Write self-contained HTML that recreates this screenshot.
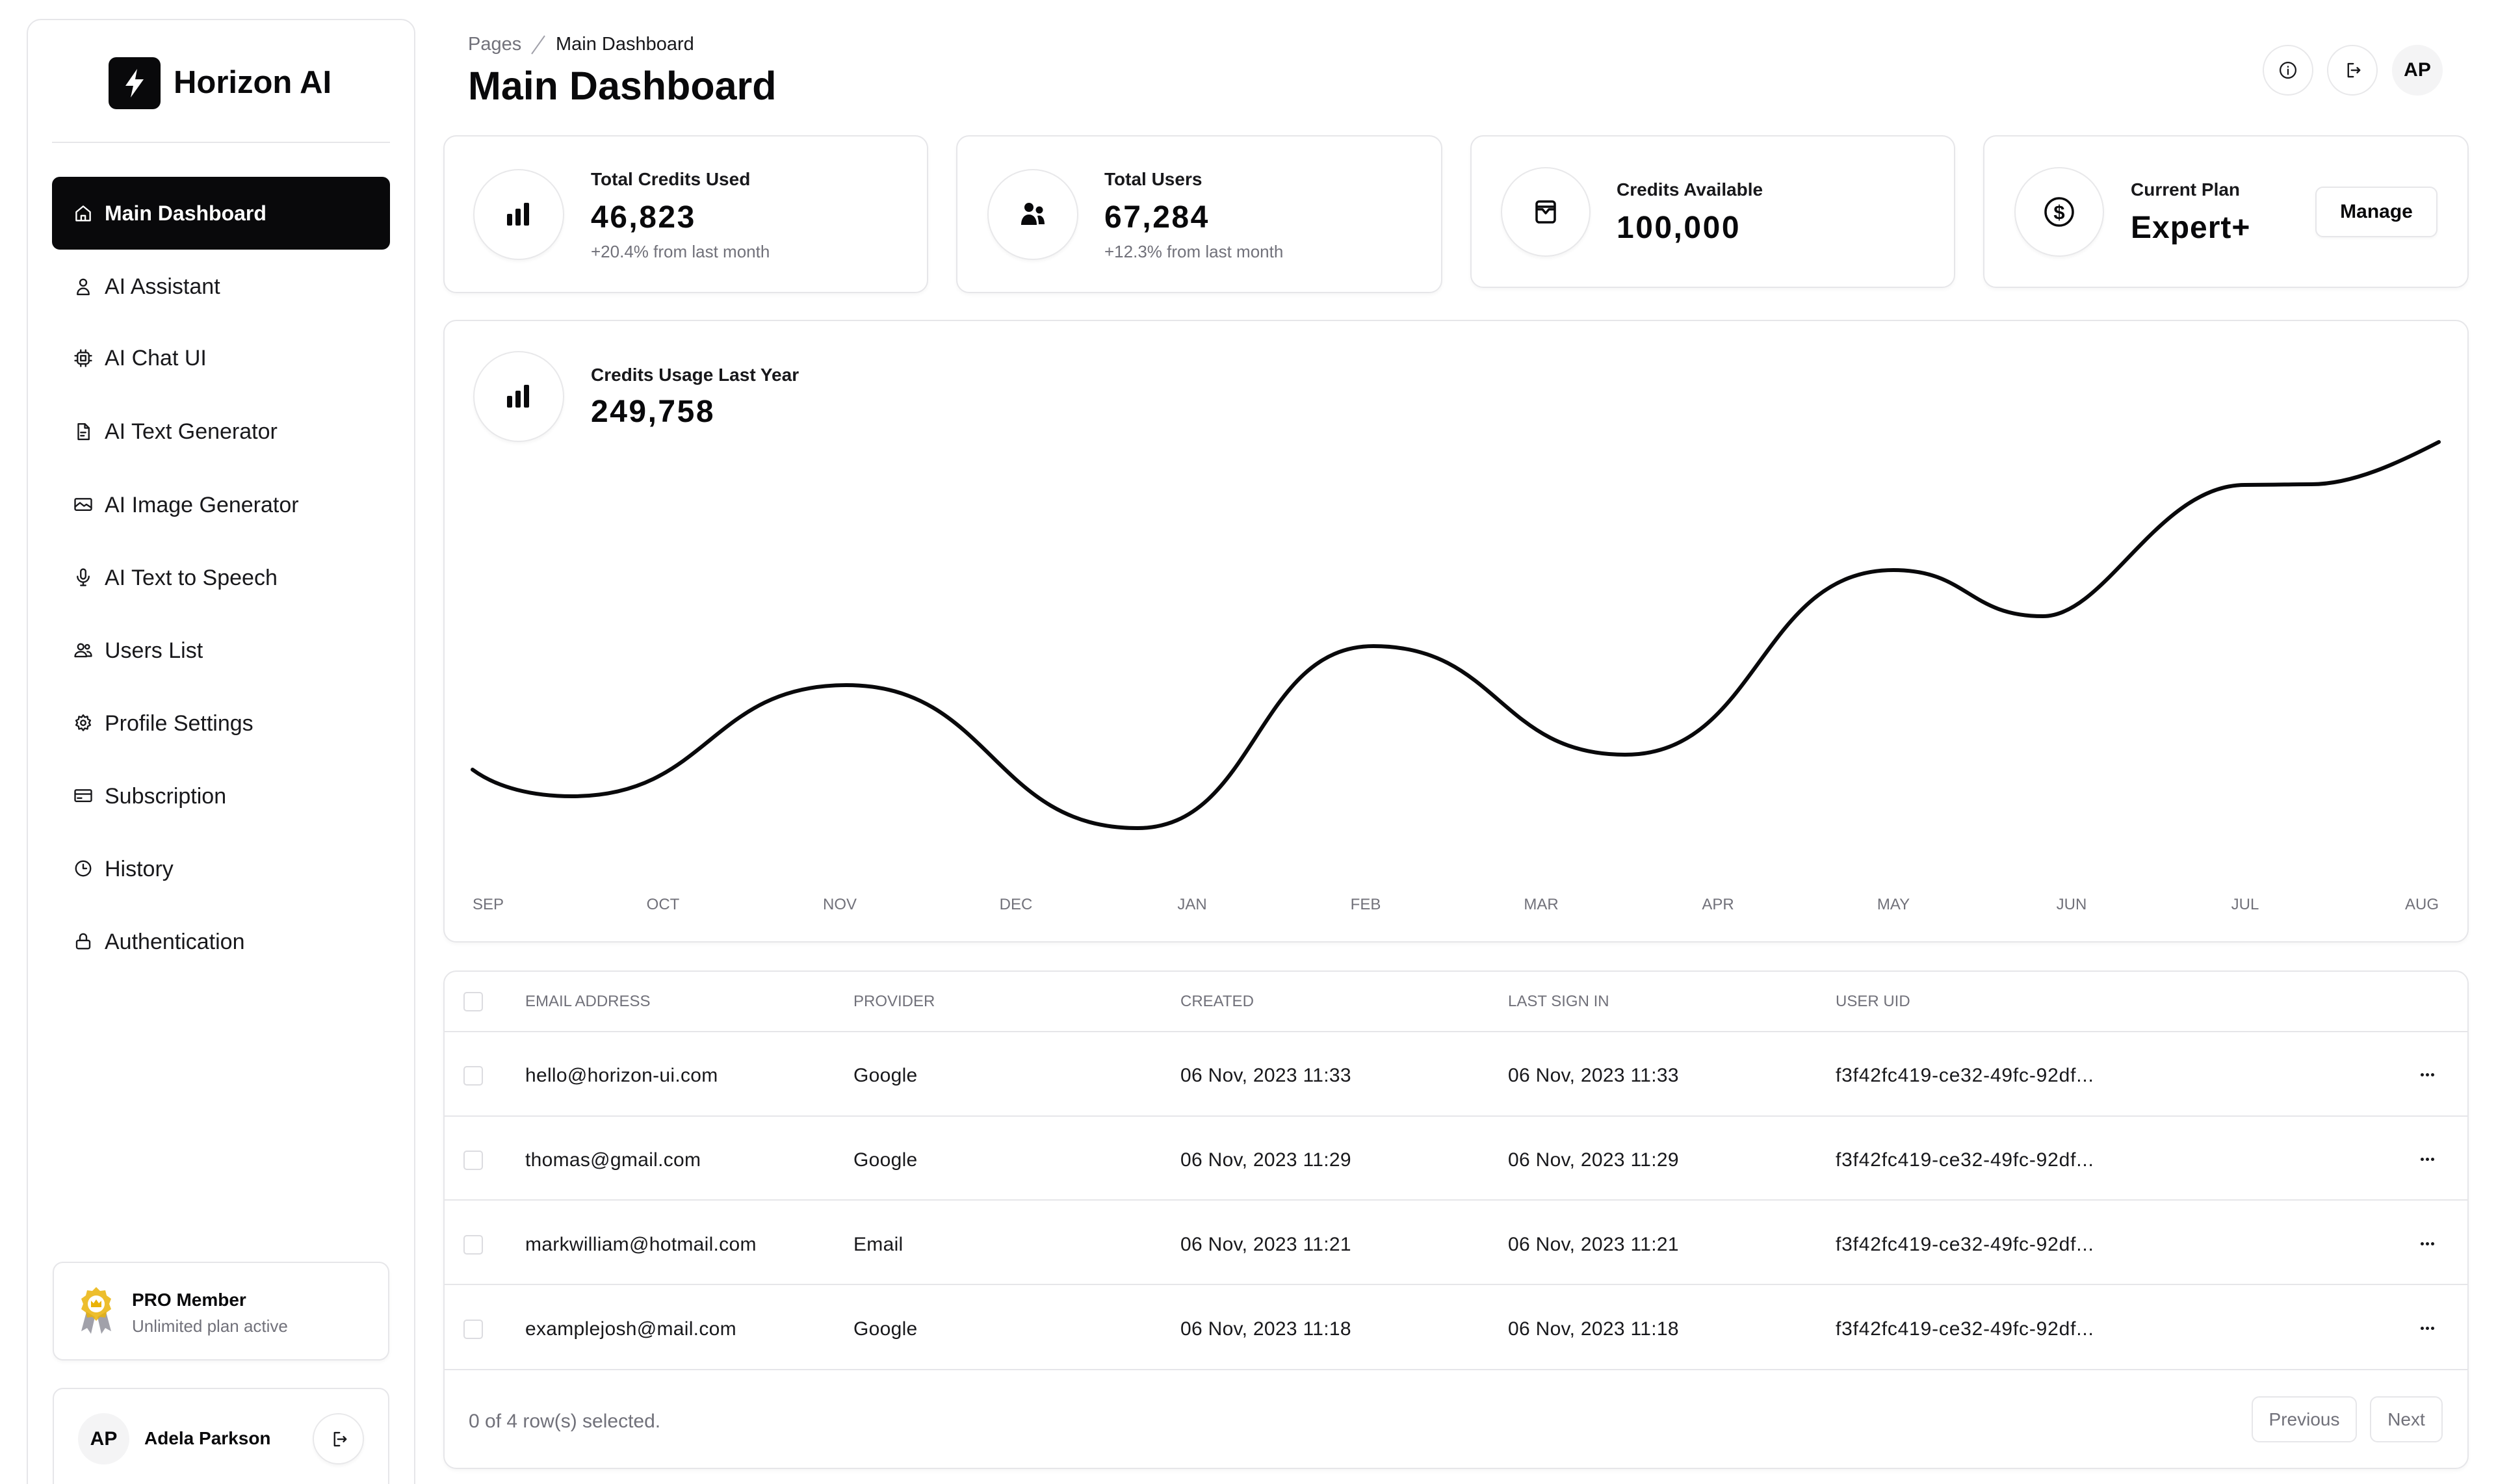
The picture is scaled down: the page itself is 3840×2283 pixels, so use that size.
<!DOCTYPE html>
<html><head><meta charset="utf-8">
<style>
*{margin:0;padding:0;box-sizing:border-box}
html,body{width:3840px;height:2283px;overflow:hidden;background:#fff}
body{position:relative;font-family:"Liberation Sans",sans-serif;color:#09090b}
.a{position:absolute}
.t{position:absolute;line-height:1;white-space:nowrap}
.card{position:absolute;background:#fff;border:2px solid #e6e6e9;border-radius:20px;box-shadow:0 3px 6px rgba(0,0,0,0.035)}
.circ{position:absolute;border:2px solid #e8e8ea;border-radius:50%;background:#fff;box-shadow:0 3px 5px rgba(0,0,0,0.04);display:flex;align-items:center;justify-content:center}
.menu{position:absolute;left:161px;font-size:34px;line-height:1;color:#18181b;white-space:nowrap}
.mi{position:absolute;left:113px;width:30px;height:30px}
.mi svg{width:30px;height:30px;fill:none;stroke:#18181b;stroke-width:1.9;stroke-linecap:round;stroke-linejoin:round}
.lbl{font-size:28px;font-weight:700;color:#18181b}
.val{font-size:48px;font-weight:700;letter-spacing:2.5px;color:#09090b}
.sub{font-size:26px;color:#71717a}
.th{font-size:24px;color:#71717a;top:1529px}
.td{font-size:30px;color:#18181b;letter-spacing:0.3px}
.cb{position:absolute;left:713px;width:30px;height:30px;border:2px solid #dcdce0;border-radius:5px}
.hr{position:absolute;left:684px;width:3112px;height:2px;background:#e6e6e9}
.dots{position:absolute;left:3724px;width:22px;height:6px}
.dots i{position:absolute;top:0;width:5px;height:5px;border-radius:50%;background:#18181b}
</style></head><body>

<!-- Sidebar -->
<div class="a" style="left:41px;top:29px;width:598px;height:2300px;border:2px solid #e6e6e9;border-radius:22px;background:#fff"></div>
<div class="a" style="left:167px;top:88px;width:80px;height:80px;background:#09090b;border-radius:12px;display:flex;align-items:center;justify-content:center">
<svg width="40" height="48" viewBox="0 0 20 24"><path d="M12 1L3 14h6l-2 9 10-14h-6.5z" fill="#fff"/></svg></div>
<div class="t" style="left:267px;top:103px;font-size:49px;font-weight:700">Horizon AI</div>
<div class="a" style="left:80px;top:218px;width:520px;height:2px;background:#e6e6e9"></div>

<div class="a" style="left:80px;top:272px;width:520px;height:112px;background:#09090b;border-radius:12px"></div>
<div class="mi" style="top:313px"><svg viewBox="0 0 24 24" style="stroke:#fff"><path d="M3.5 10.5L12 3.5l8.5 7V21h-17z"/><path d="M9.5 21v-6h5v6"/></svg></div>
<div class="menu" style="top:312px;color:#fff;font-weight:700;font-size:32px">Main Dashboard</div>

<div class="mi" style="top:426px"><svg viewBox="0 0 24 24"><circle cx="12" cy="7" r="4"/><path d="M5 21.5c0-4.5 3-7.5 7-7.5s7 3 7 7.5z"/></svg></div>
<div class="menu" style="top:424px">AI Assistant</div>
<div class="mi" style="top:536px"><svg viewBox="0 0 24 24"><rect x="5" y="5" width="14" height="14" rx="3"/><rect x="9" y="9" width="6" height="6"/><path d="M9 2v3M15 2v3M9 19v3M15 19v3M2 9h3M2 15h3M19 9h3M19 15h3"/></svg></div>
<div class="menu" style="top:534px">AI Chat UI</div>
<div class="mi" style="top:649px"><svg viewBox="0 0 24 24"><path d="M6 2.5h8l5 5v14H6z"/><path d="M14 2.5v5h5M9 13h6M9 17h4"/></svg></div>
<div class="menu" style="top:647px">AI Text Generator</div>
<div class="mi" style="top:761px"><svg viewBox="0 0 24 24"><rect x="2" y="5" width="20" height="14" rx="1.5"/><path d="M2 15l6-5 5 4 3-2 6 4"/></svg></div>
<div class="menu" style="top:760px">AI Image Generator</div>
<div class="mi" style="top:873px"><svg viewBox="0 0 24 24"><rect x="9" y="2" width="6" height="12" rx="3"/><path d="M5 11a7 7 0 0 0 14 0M12 18v4M9 22h6"/></svg></div>
<div class="menu" style="top:872px">AI Text to Speech</div>
<div class="mi" style="top:985px"><svg viewBox="0 0 24 24"><circle cx="9" cy="8" r="3.5"/><path d="M2 20c0-3.5 3-6 7-6s7 2.5 7 6z"/><circle cx="17" cy="8" r="2.5"/><path d="M17 14c3 0 5 2 5 5.5h-5"/></svg></div>
<div class="menu" style="top:984px">Users List</div>
<div class="mi" style="top:1097px"><svg viewBox="0 0 24 24"><circle cx="12" cy="12" r="3"/><path d="M12 2.5l2 2.6 3.2-.9.5 3.3 3 1.5-1.6 2.9 1.6 2.9-3 1.5-.5 3.3-3.2-.9-2 2.6-2-2.6-3.2.9-.5-3.3-3-1.5L4.9 12 3.3 9.1l3-1.5.5-3.3 3.2.9z"/></svg></div>
<div class="menu" style="top:1096px">Profile Settings</div>
<div class="mi" style="top:1209px"><svg viewBox="0 0 24 24"><rect x="2" y="5" width="20" height="14" rx="1.5"/><path d="M2 10h20M5 15h5"/></svg></div>
<div class="menu" style="top:1208px">Subscription</div>
<div class="mi" style="top:1321px"><svg viewBox="0 0 24 24"><circle cx="12" cy="12" r="9"/><path d="M12 7v5h4"/></svg></div>
<div class="menu" style="top:1320px">History</div>
<div class="mi" style="top:1433px"><svg viewBox="0 0 24 24"><rect x="4" y="11" width="16" height="10" rx="2"/><path d="M8 11V7a4 4 0 0 1 8 0v4"/></svg></div>
<div class="menu" style="top:1432px">Authentication</div>

<div class="a" style="left:81px;top:1941px;width:518px;height:152px;border:2px solid #e6e6e9;border-radius:16px;box-shadow:0 3px 6px rgba(0,0,0,0.035)"></div>
<svg class="a" style="left:119px;top:1978px" width="58" height="78" viewBox="0 0 58 78">
<path d="M14 40l-8 30 9-5 6 9 6-26z" fill="#a1a1aa"/><path d="M44 40l8 30-9-5-6 9-6-26z" fill="#a1a1aa"/>
<path d="M29 2l6 6 8-1 2 8 7 5-3 8 3 8-7 5-2 8-8-1-6 6-6-6-8 1-2-8-7-5 3-8-3-8 7-5 2-8 8 1z" fill="#eab308" opacity="0.85"/>
<circle cx="29" cy="28" r="13" fill="#fff"/><path d="M21 33V23l4 4 4-6 4 6 4-4v10z" fill="#eab308"/></svg>
<div class="t" style="left:203px;top:1986px;font-size:28px;font-weight:700">PRO Member</div>
<div class="t" style="left:203px;top:2027px;font-size:26px;color:#71717a">Unlimited plan active</div>

<div class="a" style="left:81px;top:2135px;width:518px;height:200px;border:2px solid #e6e6e9;border-radius:16px"></div>
<div class="a" style="left:120px;top:2174px;width:79px;height:79px;border-radius:50%;background:#f4f4f5;display:flex;align-items:center;justify-content:center;font-size:30px;font-weight:700">AP</div>
<div class="t" style="left:222px;top:2199px;font-size:28px;font-weight:700">Adela Parkson</div>
<div class="circ" style="left:481px;top:2174px;width:79px;height:79px"><svg width="30" height="30" viewBox="0 0 24 24" fill="none" stroke="#18181b" stroke-width="1.9" stroke-linecap="round" stroke-linejoin="round"><path d="M13 4H7v16h6M11 12h10M18 9l3 3-3 3"/></svg></div>

<!-- Header -->
<div class="t" style="left:720px;top:54px;font-size:29px;color:#71717a">Pages</div>
<svg class="a" style="left:814px;top:52px" width="28" height="34" viewBox="0 0 28 34"><path d="M24 3L4 31" stroke="#a1a1aa" stroke-width="2"/></svg>
<div class="t" style="left:855px;top:54px;font-size:29px;color:#18181b">Main Dashboard</div>
<div class="t" style="left:720px;top:102px;font-size:61px;font-weight:700">Main Dashboard</div>

<div class="circ" style="left:3481px;top:69px;width:78px;height:78px;box-shadow:none"><svg width="30" height="30" viewBox="0 0 24 24" fill="none" stroke="#18181b" stroke-width="1.8"><circle cx="12" cy="12" r="9.5"/><path d="M12 11v6M12 7.5v.5" stroke-linecap="round"/></svg></div>
<div class="circ" style="left:3580px;top:69px;width:78px;height:78px;box-shadow:none"><svg width="30" height="30" viewBox="0 0 24 24" fill="none" stroke="#18181b" stroke-width="1.9" stroke-linecap="round" stroke-linejoin="round"><path d="M13 4H7v16h6M11 12h10M18 9l3 3-3 3"/></svg></div>
<div class="a" style="left:3680px;top:69px;width:78px;height:78px;border-radius:50%;background:#f4f4f5;display:flex;align-items:center;justify-content:center;font-size:30px;font-weight:700">AP</div>

<!-- Stat cards -->
<div class="card" style="left:682px;top:208px;width:746px;height:243px"></div>
<div class="circ" style="left:728px;top:260px;width:140px;height:140px"><svg width="36" height="36" viewBox="0 0 36 36"><rect x="0" y="17" width="8" height="18" rx="2" fill="#09090b"/><rect x="13" y="9" width="8" height="26" rx="2" fill="#09090b"/><rect x="26" y="0" width="8" height="35" rx="2" fill="#09090b"/></svg></div>
<div class="t lbl" style="left:909px;top:262px">Total Credits Used</div>
<div class="t val" style="left:909px;top:311px">46,823</div>
<div class="t sub" style="left:909px;top:374px">+20.4% from last month</div>

<div class="card" style="left:1471px;top:208px;width:748px;height:243px"></div>
<div class="circ" style="left:1519px;top:260px;width:140px;height:140px"><svg width="40" height="40" viewBox="0 0 40 40"><circle cx="14" cy="9" r="7" fill="#09090b"/><circle cx="30" cy="13" r="5.5" fill="#09090b"/><path d="M2 36c0-10 5-16 12-16s12 6 12 16z" fill="#09090b"/><path d="M27 22c6-2 11 3 11 13h-9c0-5-1-9-2-13z" fill="#09090b"/></svg></div>
<div class="t lbl" style="left:1699px;top:262px">Total Users</div>
<div class="t val" style="left:1699px;top:311px">67,284</div>
<div class="t sub" style="left:1699px;top:374px">+12.3% from last month</div>

<div class="card" style="left:2262px;top:208px;width:746px;height:235px"></div>
<div class="circ" style="left:2309px;top:257px;width:138px;height:138px"><svg width="34" height="38" viewBox="0 0 34 38" fill="none" stroke="#09090b" stroke-width="3.5" stroke-linejoin="round"><rect x="3" y="3" width="28" height="32" rx="4"/><path d="M3 11h28M3 15h9l5 6 5-6h9"/></svg></div>
<div class="t lbl" style="left:2487px;top:278px">Credits Available</div>
<div class="t val" style="left:2487px;top:327px">100,000</div>

<div class="card" style="left:3051px;top:208px;width:747px;height:235px"></div>
<div class="circ" style="left:3099px;top:257px;width:138px;height:138px"><svg width="50" height="50" viewBox="0 0 50 50"><circle cx="25" cy="25" r="21" fill="none" stroke="#09090b" stroke-width="3.5"/><text x="25" y="36" text-anchor="middle" font-family="Liberation Sans" font-size="31" font-weight="700" fill="#09090b">$</text></svg></div>
<div class="t lbl" style="left:3278px;top:278px">Current Plan</div>
<div class="t val" style="left:3278px;top:327px;letter-spacing:1px">Expert+</div>
<div class="a" style="left:3562px;top:287px;width:188px;height:78px;border:2px solid #e6e6e9;border-radius:12px;display:flex;align-items:center;justify-content:center;font-size:30px;font-weight:700;color:#09090b;box-shadow:0 2px 4px rgba(0,0,0,0.04)">Manage</div>

<!-- Chart card -->
<div class="card" style="left:682px;top:492px;width:3116px;height:958px"></div>
<div class="circ" style="left:728px;top:540px;width:140px;height:140px"><svg width="36" height="36" viewBox="0 0 36 36"><rect x="0" y="17" width="8" height="18" rx="2" fill="#09090b"/><rect x="13" y="9" width="8" height="26" rx="2" fill="#09090b"/><rect x="26" y="0" width="8" height="35" rx="2" fill="#09090b"/></svg></div>
<div class="t lbl" style="left:909px;top:563px">Credits Usage Last Year</div>
<div class="t val" style="left:909px;top:610px">249,758</div>

<svg class="a" style="left:0;top:0" width="3840" height="1450" viewBox="0 0 3840 1450">
<path d="M727,1184 C765,1212 820,1225 880,1225 C1091,1225 1091,1054 1302,1054 C1526,1054 1526,1274 1750,1274 C1932,1274 1932,994 2113,994 C2306,994 2306,1161 2500,1161 C2706,1161 2706,877 2913,877 C3028,877 3028,948 3143,948 C3240,948 3320,746 3454,746 C3505,746 3520,745 3556,745 C3620,745 3690,712 3752,680" fill="none" stroke="#09090b" stroke-width="6" stroke-linecap="round"/>
<g font-family="Liberation Sans" font-size="24" fill="#71717a" text-anchor="middle">
<text x="751" y="1399">SEP</text><text x="1020" y="1399">OCT</text><text x="1292" y="1399">NOV</text><text x="1563" y="1399">DEC</text><text x="1834" y="1399">JAN</text><text x="2101" y="1399">FEB</text><text x="2371" y="1399">MAR</text><text x="2643" y="1399">APR</text><text x="2913" y="1399">MAY</text><text x="3187" y="1399">JUN</text><text x="3454" y="1399">JUL</text><text x="3726" y="1399">AUG</text>
</g></svg>

<!-- Table card -->
<div class="card" style="left:682px;top:1493px;width:3116px;height:767px"></div>
<div class="cb" style="top:1526px"></div>
<div class="t th" style="left:808px">EMAIL ADDRESS</div>
<div class="t th" style="left:1313px">PROVIDER</div>
<div class="t th" style="left:1816px">CREATED</div>
<div class="t th" style="left:2320px">LAST SIGN IN</div>
<div class="t th" style="left:2824px">USER UID</div>
<div class="hr" style="top:1586px"></div>

<div class="cb" style="top:1640px"></div>
<div class="t td" style="left:808px;top:1640px">hello@horizon-ui.com</div>
<div class="t td" style="left:1313px;top:1640px">Google</div>
<div class="t td" style="left:1816px;top:1640px">06 Nov, 2023 11:33</div>
<div class="t td" style="left:2320px;top:1640px">06 Nov, 2023 11:33</div>
<div class="t td" style="left:2824px;top:1640px;letter-spacing:0.8px">f3f42fc419-ce32-49fc-92df...</div>
<div class="dots" style="top:1651px"><i style="left:0"></i><i style="left:8px"></i><i style="left:16px"></i></div>
<div class="hr" style="top:1716px"></div>

<div class="cb" style="top:1770px"></div>
<div class="t td" style="left:808px;top:1770px">thomas@gmail.com</div>
<div class="t td" style="left:1313px;top:1770px">Google</div>
<div class="t td" style="left:1816px;top:1770px">06 Nov, 2023 11:29</div>
<div class="t td" style="left:2320px;top:1770px">06 Nov, 2023 11:29</div>
<div class="t td" style="left:2824px;top:1770px;letter-spacing:0.8px">f3f42fc419-ce32-49fc-92df...</div>
<div class="dots" style="top:1781px"><i style="left:0"></i><i style="left:8px"></i><i style="left:16px"></i></div>
<div class="hr" style="top:1845px"></div>

<div class="cb" style="top:1900px"></div>
<div class="t td" style="left:808px;top:1900px">markwilliam@hotmail.com</div>
<div class="t td" style="left:1313px;top:1900px">Email</div>
<div class="t td" style="left:1816px;top:1900px">06 Nov, 2023 11:21</div>
<div class="t td" style="left:2320px;top:1900px">06 Nov, 2023 11:21</div>
<div class="t td" style="left:2824px;top:1900px;letter-spacing:0.8px">f3f42fc419-ce32-49fc-92df...</div>
<div class="dots" style="top:1911px"><i style="left:0"></i><i style="left:8px"></i><i style="left:16px"></i></div>
<div class="hr" style="top:1975px"></div>

<div class="cb" style="top:2030px"></div>
<div class="t td" style="left:808px;top:2030px">examplejosh@mail.com</div>
<div class="t td" style="left:1313px;top:2030px">Google</div>
<div class="t td" style="left:1816px;top:2030px">06 Nov, 2023 11:18</div>
<div class="t td" style="left:2320px;top:2030px">06 Nov, 2023 11:18</div>
<div class="t td" style="left:2824px;top:2030px;letter-spacing:0.8px">f3f42fc419-ce32-49fc-92df...</div>
<div class="dots" style="top:2041px"><i style="left:0"></i><i style="left:8px"></i><i style="left:16px"></i></div>
<div class="hr" style="top:2106px"></div>

<div class="t" style="left:721px;top:2172px;font-size:30px;color:#71717a">0 of 4 row(s) selected.</div>
<div class="a" style="left:3464px;top:2148px;width:162px;height:71px;border:2px solid #e6e6e9;border-radius:12px;display:flex;align-items:center;justify-content:center;font-size:28px;color:#71717a">Previous</div>
<div class="a" style="left:3646px;top:2148px;width:112px;height:71px;border:2px solid #e6e6e9;border-radius:12px;display:flex;align-items:center;justify-content:center;font-size:28px;color:#71717a">Next</div>

</body></html>
